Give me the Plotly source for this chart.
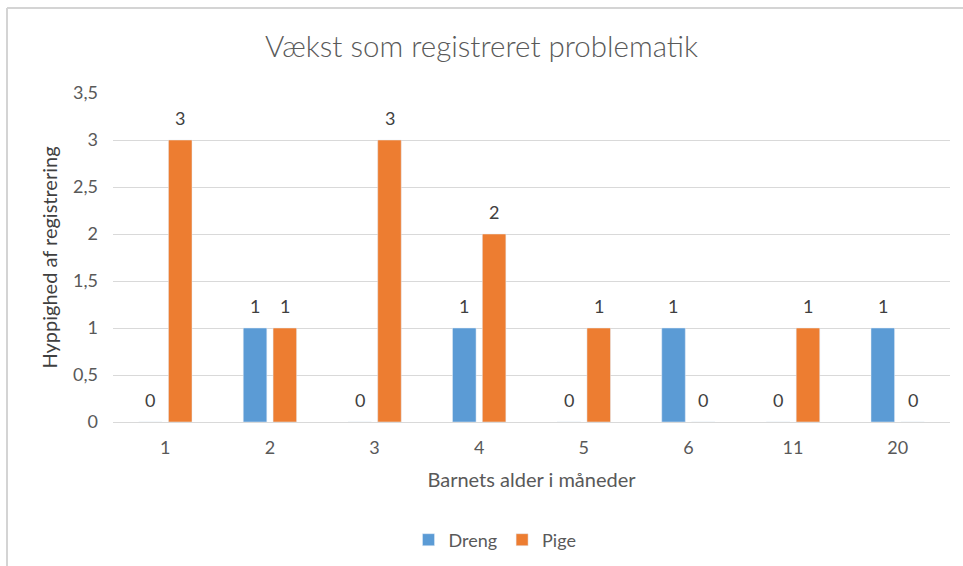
import plotly.graph_objects as go

categories = ["1", "2", "3", "4", "5", "6", "11", "20"]
dreng = [0, 1, 0, 1, 0, 1, 0, 1]
pige = [3, 1, 3, 2, 1, 0, 1, 0]
y_ticks = [0, 0.5, 1, 1.5, 2, 2.5, 3, 3.5]
y_tick_labels = ["0", "0,5", "1", "1,5", "2", "2,5", "3", "3,5"]

FONT = "Lato, 'Open Sans', sans-serif"
LABEL_FONT = dict(size=18, color="#404040", family=FONT)

fig = go.Figure()
fig.add_trace(go.Bar(name="Dreng", x=categories, y=dreng, marker_color="#5B9BD5",
                     offsetgroup="d"))
fig.add_trace(go.Bar(name="Pige", x=categories, y=pige, marker_color="#ED7D31",
                     offsetgroup="p"))

# data labels from the data arrays, placed via the axis scales
# (category axis: position = category index)
annotations = []
for series, shift in ((dreng, -15), (pige, 15)):
    for i, val in enumerate(series):
        annotations.append(dict(x=i, y=val, xref="x", yref="y", text=str(val),
                                showarrow=False, xshift=shift, yshift=9,
                                yanchor="bottom", font=LABEL_FONT))

L, R, T, B = 113, 13, 93, 144
W, H = 963, 566
pw, ph = W - L - R, H - T - B

def px(x):
    return (x - L) / pw

def py(y):
    return (H - B - y) / ph

fig.update_layout(
    width=W, height=H,
    margin=dict(l=L, r=R, t=T, b=B, autoexpand=False),
    paper_bgcolor="white", plot_bgcolor="white",
    barmode="group", bargap=0.43, bargroupgap=0.21,
    font=dict(family=FONT, color="#595959"),
    title=dict(text="Vækst som registreret problematik", x=0.5, xanchor="center",
               y=1 - 47 / H, yanchor="middle",
               font=dict(size=29.5, color="#595959", family=FONT, weight=300)),
    xaxis=dict(type="category", categoryorder="array", categoryarray=categories,
               range=[-0.5, len(categories) - 0.5],
               showgrid=False, showline=True, linecolor="#D9D9D9", linewidth=1,
               tickfont=dict(size=18, color="#595959"), ticks="", ticklabelstandoff=9,
               automargin=False,
               title=dict(text="Barnets alder i måneder", font=dict(size=20, color="#595959"), standoff=16)),
    yaxis=dict(range=[0, 3.5], tickvals=y_ticks, ticktext=y_tick_labels,
               showgrid=True, gridcolor="#D9D9D9", gridwidth=1, zeroline=False,
               tickfont=dict(size=18, color="#595959"), ticks="", ticklen=0, ticklabelstandoff=14,
               automargin=False,
               title=dict(text="Hyppighed af registrering", font=dict(size=20, color="#404040"), standoff=10)),
    legend=dict(orientation="h", x=px(495), xanchor="center", y=py(540), yanchor="middle",
                font=dict(size=18, color="#595959"), itemwidth=30, traceorder="normal"),
    annotations=annotations,
    shapes=[
        dict(type="line", xref="paper", yref="paper", x0=px(7), x1=px(963), y0=py(8), y1=py(8),
             line=dict(color="#D4D4D4", width=2)),
        dict(type="line", xref="paper", yref="paper", x0=px(7), x1=px(7), y0=py(8), y1=py(566),
             line=dict(color="#D4D4D4", width=2)),
    ],
)

fig.write_html("out.html", config={"displayModeBar": False},
               post_script="document.body.style.margin='0';document.body.style.overflow='hidden';")
